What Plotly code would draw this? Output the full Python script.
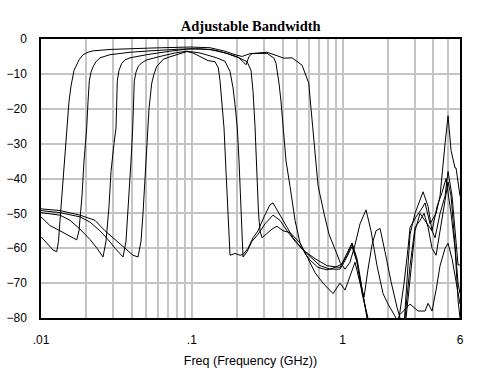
import plotly.graph_objects as go

# Frequencies in GHz, responses in dB
f1 = [0.0100, 0.01096, 0.01201, 0.01271, 0.01306, 0.01337, 0.01378, 0.01406, 0.01454, 0.01494, 0.01533, 0.01581, 0.01618,
      0.01655, 0.01707, 0.01786, 0.01899, 0.0205, 0.02213, 0.02868, 0.05282, 0.09728, 0.132, 0.166, 0.1934, 0.2152,
      0.2432, 0.3152, 0.4087, 0.4619, 0.5381, 0.5961, 0.6173, 0.6462, 0.6869, 0.7527, 0.8124, 0.9041, 0.9609, 1.037,
      1.119, 1.208, 1.304, 1.429, 1.542, 1.690, 1.853, 2.0, 2.126, 2.26, 2.33, 2.515, 2.554, 2.714, 2.799, 3.02, 3.26,
      3.413, 3.684, 3.915, 4.10, 4.425, 4.776, 5.0, 5.315, 5.564, 5.825, 6.0]
s1 = [-56.7, -58.5, -60.5, -61, -58, -52, -44, -40, -30, -25, -18, -13.5, -11,
      -9, -7.8, -6, -4.5, -3.8, -3.4, -3.0, -2.6, -2.3, -2.5, -3.5, -4.5, -5,
      -4.2, -3.8, -5.5, -5.4, -7.5, -12.7, -20, -30, -42, -50, -56, -61, -64, -66,
      -64, -59, -53, -49, -55, -65, -73, -76, -78, -80, -83, -84, -82, -66, -56, -50, -46,
      -43.8, -48, -55, -57, -50, -45, -38, -45, -55, -64.8, -64.8]

f2 = [0.01, 0.01147, 0.01337, 0.01557, 0.01725, 0.01786, 0.0187, 0.01928, 0.02009, 0.0205, 0.02091, 0.02146, 0.02223,
      0.02316, 0.02461, 0.02868, 0.03892, 0.05282, 0.08352, 0.1133, 0.1425, 0.1738, 0.2025, 0.2185, 0.2288, 0.2395,
      0.2507, 0.3152, 0.3508, 0.3617, 0.3786, 0.3904, 0.4069, 0.4214, 0.448, 0.4835, 0.5219, 0.5634, 0.608, 0.6869,
      0.788, 0.8904, 0.9908, 1.069, 1.154, 1.246, 1.345, 1.429, 1.473, 1.566, 2.0, 2.33, 2.554, 2.714, 2.799, 3.066,
      3.311, 3.519, 3.798, 4.163, 4.425, 4.776, 5.0, 5.234, 5.564, 5.649, 6.0]
s2 = [-51, -53.5, -55, -56.5, -57.6, -55, -45, -35, -25.5, -18, -12, -9.5, -7.8,
      -6.5, -5.4, -4.5, -3.8, -3.4, -2.9, -2.8, -3.2, -4.2, -5.2, -6.5, -7.4, -5,
      -4.2, -4.1, -5.5, -7, -12.7, -18, -27, -35, -42.3, -52, -58.5, -61.5, -63.4, -65.5,
      -66.2, -65.5, -64.5, -62, -58.6, -64, -72, -78, -81, -85, -88, -82, -70, -60, -54, -51,
      -49, -47, -53, -50, -45, -30, -22, -32, -37, -37, -45]

f3 = [0.01, 0.01337, 0.01557, 0.01814, 0.02113, 0.02351, 0.02577, 0.02698, 0.02824, 0.02912, 0.03049, 0.03143, 0.03206,
      0.0329, 0.03429, 0.03606, 0.03892, 0.05022, 0.07167, 0.09728, 0.132, 0.166, 0.2087, 0.2323, 0.2469, 0.2546,
      0.2624, 0.2706, 0.2769, 0.2833, 0.2921, 0.3105, 0.3402, 0.3672, 0.4025, 0.448, 0.5219, 0.5898, 0.6562, 0.7413,
      0.8637, 0.9609, 1.037, 1.119, 1.208, 1.304, 1.387, 1.473, 1.566, 1.664, 1.77, 1.91, 2.094, 2.295, 2.402, 2.515,
      2.633, 2.799, 3.02, 3.26, 3.519, 3.915, 4.227, 4.563, 4.849, 5.234, 5.564, 5.825, 6.0]
s3 = [-49.8, -50.5, -52, -54.5, -57.5, -60, -62.5, -58, -48, -38, -30, -25.5, -12,
      -9, -7, -6, -5.4, -4.5, -3.5, -2.8, -3.0, -4, -5.5, -6.5, -9, -15,
      -25, -40, -50, -55, -57, -56, -54.5, -53.7, -55, -55.5, -58.5, -63, -67, -70,
      -73, -70, -72, -68, -64, -70, -74, -66, -59, -55, -54.3, -61, -69.6, -77, -80, -83,
      -80, -68, -55, -50, -52, -55, -48, -44, -40, -50, -60, -75, -80]

f4 = [0.01, 0.01337, 0.01814, 0.02113, 0.02461, 0.02782, 0.03096, 0.03341, 0.03498, 0.03661, 0.03833, 0.03952, 0.04056,
      0.04156, 0.04265, 0.04418, 0.04674, 0.05022, 0.06153, 0.07738, 0.0925, 0.1133, 0.1463, 0.166, 0.1792, 0.1876,
      0.1934, 0.2003, 0.2056, 0.212, 0.2185, 0.2323, 0.2507, 0.2748, 0.3058, 0.3455, 0.3845, 0.4279, 0.4835, 0.5464,
      0.6268, 0.708, 0.825, 0.9609, 1.053, 1.154, 1.246, 1.345, 1.473, 1.566, 2.4, 2.593, 2.799, 3.02, 3.26, 3.466,
      3.684, 3.915, 4.163, 4.425, 4.704, 5.0, 5.234, 5.564, 5.825, 6.0]
s4 = [-49.2, -49.8, -51, -52.5, -55, -57.5, -60, -61.5, -62.5, -58, -45, -35, -25.5,
      -12, -9.5, -7.8, -6.8, -6, -5, -4, -3.5, -4, -5.4, -6.4, -9.3, -14,
      -18.8, -25.5, -35, -50, -62.5, -61, -58, -56, -53, -50.5, -52, -55, -58, -60.5,
      -63, -65, -66, -66, -63, -59.5, -64, -73, -80, -86, -88, -80, -65, -54, -52, -50,
      -54, -60, -62, -55, -47, -41, -45, -60, -70, -73]

f5 = [0.01, 0.01337, 0.01814, 0.02281, 0.02657, 0.03096, 0.03606, 0.04075, 0.04397, 0.04603, 0.04746, 0.04893, 0.05046,
      0.05202, 0.05421, 0.05615, 0.05851, 0.06471, 0.07167, 0.08352, 0.09292, 0.1018, 0.1133, 0.1281, 0.1425, 0.1499,
      0.1538, 0.1579, 0.1635, 0.1686, 0.1738, 0.1792, 0.1934, 0.2087, 0.2185, 0.2359, 0.2546, 0.2748, 0.3011, 0.33,
      0.3455, 0.3672, 0.4025, 0.469, 0.5464, 0.6562, 0.788, 0.9609, 1.053, 1.154, 1.246, 1.345, 1.451, 1.566, 2.226,
      2.402, 2.799, 3.162, 3.519, 3.684, 3.915, 4.163, 4.425, 4.776, 5.0, 5.315, 5.649, 6.0]
s5 = [-48.7, -49.2, -50.5, -52, -55, -57.5, -60, -62, -62.5, -58, -50, -40, -30,
      -20, -12.7, -10, -7.9, -5.8, -5.1, -4.1, -3.6, -4, -5, -6.2, -6.5, -8.3,
      -12, -18.8, -25.5, -38, -52, -62, -61.5, -62, -61.8, -60, -57, -55, -51, -47.5,
      -47, -49, -52, -57, -60.5, -63, -65, -65.5, -62, -58.5, -63, -72, -80, -84, -82,
      -79, -76, -78, -78, -75.8, -78, -72, -65, -60, -58.6, -63, -70, -76]

x_tick_vals = [0.01, 0.1, 1, 6]
x_tick_text = [".01", ".1", "1", "6"]
x_minor_vals = [0.02, 0.03, 0.04, 0.05, 0.06, 0.07, 0.08, 0.09,
                0.2, 0.3, 0.4, 0.5, 0.6, 0.7, 0.8, 0.9, 2, 3, 4, 5]

fig = go.Figure()
for fx, sy in [(f1, s1), (f2, s2), (f3, s3), (f4, s4), (f5, s5)]:
    fig.add_trace(go.Scatter(x=fx, y=sy, mode="lines",
                             line=dict(color="black", width=1), showlegend=False))

fig.update_layout(
    width=484, height=375,
    margin=dict(l=41, r=24, t=39, b=57, autoexpand=False),
    paper_bgcolor="white", plot_bgcolor="white",
    title=dict(text="<b>Adjustable Bandwidth</b>", x=0.518, xanchor="center",
               y=1 - 26 / 375, yanchor="middle", yref="container",
               font=dict(family="Liberation Serif", size=14.5, color="black")),
    font=dict(family="Liberation Sans", size=12, color="black"),
)
fig.update_xaxes(
    type="log", range=[-2, 0.77815], automargin=False,
    tickvals=x_tick_vals, ticktext=x_tick_text,
    showgrid=True, gridcolor="#c4c4c4", gridwidth=1.5,
    minor=dict(tickvals=x_minor_vals, showgrid=True, gridcolor="#c4c4c4", gridwidth=1.5, ticks=""),
    showline=True, linecolor="black", linewidth=1.5, mirror=True,
    ticks="outside", ticklen=10, tickcolor="rgba(0,0,0,0)",
    zeroline=False,
    title=dict(text="Freq (Frequency (GHz))", standoff=10, font=dict(size=12.5)),
)
fig.update_yaxes(
    range=[-80, 0], dtick=10, tick0=0, automargin=False,
    showgrid=True, gridcolor="#c4c4c4", gridwidth=1.5,
    showline=True, linecolor="black", linewidth=1.5, mirror=True,
    ticks="outside", ticklen=10, tickcolor="rgba(0,0,0,0)",
    zeroline=False,
)
fig.write_html("out.html", config={"displayModeBar": False},
               post_script="document.body.style.margin='0';document.body.style.padding='0';")
